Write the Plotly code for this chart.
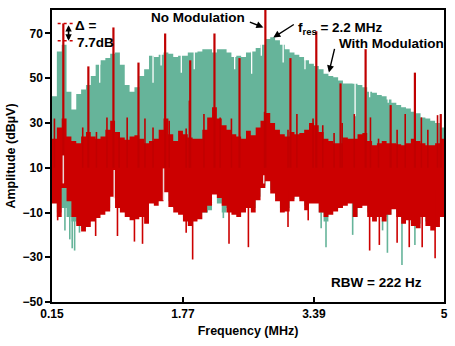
import plotly.graph_objects as go

# Frequency bins (MHz) of the measured spectrum, 0.06 MHz apart
freq = [0.18, 0.24, 0.30, 0.36, 0.42, 0.48, 0.54, 0.60, 0.66, 0.72,
        0.78, 0.84, 0.90, 0.96, 1.02, 1.08, 1.14, 1.20, 1.26, 1.32,
        1.38, 1.44, 1.50, 1.56, 1.62, 1.68, 1.74, 1.80, 1.86, 1.92,
        1.98, 2.04, 2.10, 2.16, 2.22, 2.28, 2.34, 2.40, 2.46, 2.52,
        2.58, 2.64, 2.70, 2.76, 2.82, 2.88, 2.94, 3.00, 3.06, 3.12,
        3.18, 3.24, 3.30, 3.36, 3.42, 3.48, 3.54, 3.60, 3.66, 3.72,
        3.78, 3.84, 3.90, 3.96, 4.02, 4.08, 4.14, 4.20, 4.26, 4.32,
        4.38, 4.44, 4.50, 4.56, 4.62, 4.68, 4.74, 4.80, 4.86, 4.92,
        4.98]
BIN = 0.06

# With modulation: max / min amplitude per bin (dBuV)
teal_hi = [42, 62, 65, 44, 36, 43, 45, 47, 51, 56,
           58, 59, 61, 61.5, 56, 47, 44, 46, 51, 54,
           60, 59.5, 60.5, 61.5, 61, 59.5, 60, 60, 61.5, 61.5,
           62, 63, 63, 61.5, 63, 63, 61.5, 59.5, 60, 59.5,
           61.5, 62, 63.5, 65, 67.5, 68.3, 67, 65, 63, 61.5,
           60.5, 59.5, 58, 56.5, 55.5, 54, 52, 51, 50.5, 49,
           47.7, 47.7, 47.5, 47, 46, 44, 43.5, 42.5, 42, 40.5,
           39, 38, 37, 36.5, 35, 34.3, 32.5, 32, 31, 30,
           28]
teal_lo = [-4, -10, -8, -12, -14, -15, -17, -14, -12, -10,
           -9, -8, -2, -6, -8, -10, -11, -11, -10, -12,
           -4, -5, -3, 0, -5, -8, -9, -12, -13, -12,
           -10, -10, -9, 0, -6, -10, -8, -9, -10, -8,
           -6, -8, -3, 2, 5, 0, -3, -8, -8, -4,
           -2, -4, -7, -5, -5, -10, -14, -9, -8, -6,
           -5, -5, -12, -7, -6, -10, -12, -10, -12, -11,
           -7, -10, -13, -12, -15, -15, -10, -14, -16, -14,
           -10]

# No modulation: max / min of the noise floor per bin (dBuV)
red_hi = [23, 28, 32, 24, 22, 21, 24, 26, 24, 23,
          24, 27, 31, 26, 23.5, 22.5, 24, 24.5, 23, 21,
          22, 23, 27, 32, 25, 22, 26.5, 25, 23.5, 23,
          23, 27, 32.5, 37, 32, 29, 27, 25, 24, 23,
          26.5, 24.5, 28, 31, 34.5, 30, 27, 25, 24, 26,
          25, 25.5, 27, 30, 29, 26, 23, 22, 21, 21,
          23.5, 23, 23, 25, 25.5, 22, 20, 21, 22, 21,
          21, 20.5, 20, 21, 23, 22, 21, 20, 20, 21,
          23]
red_lo = [-6, -12, 1, -5, -12, -16, -18.5, -16.5, -14, -12.5,
          -11, -9.5, -3, -8, -10, -12, -13.5, -13, -12, -15,
          -6, -7, -5, -1, -7.5, -10, -11, -14, -16, -14,
          -13, -10, -7, -2, -3.5, -7, -10, -11, -12, -10,
          -8, -10, -4.5, 1, 4, -1.5, -5, -10, -9.5, -5,
          -3, -5, -9, -6, -6, -10, -12, -11, -9.5, -8,
          -7, -6, -12, -8, -7, -12, -14, -12, -14, -11,
          -8.5, -12, -15, -13.5, -16, -17, -12, -16, -18, -16.5,
          -12]

# Switching harmonics without modulation (MHz, peak dBuV)
harm_f = [0.29, 0.60, 0.91, 1.22, 1.55, 1.86, 2.16, 2.47,
          2.79, 3.10, 3.42, 3.72, 4.03, 4.34, 4.64, 4.96]
harm_v = [74.5, 55.3, 72.7, 57, 70, 58, 70, 59,
          85, 59, 71, 47.7, 63, 38, 52.5, 34]

# Smaller spurs on the unmodulated floor
spur_f = [0.18, 0.53, 0.70, 0.83, 0.98, 1.08, 1.30, 1.40, 1.60, 1.81,
          1.85, 2.03, 2.23, 2.37, 2.78, 3.07, 3.18, 3.38, 3.50, 3.64,
          3.74, 3.89, 4.09, 4.19, 4.42, 4.52, 4.72, 4.80, 4.92]
spur_v = [32, 28, 26, 32.5, 26, 32.5, 32, 28, 31, 27.5,
          40, 34, 32.5, 32, 35, 27, 34, 32, 29, 25.5,
          30, 34, 32.5, 23, 27, 34, 32.5, 27, 33.5]

# Deep minima of each trace (MHz, dBuV)
red_dip_f = [0.22, 0.69, 0.96, 1.17, 1.27, 1.81, 1.89, 2.34, 2.58, 3.07,
             3.32, 4.08, 4.20, 4.42, 4.57, 4.73, 4.89]
red_dip_v = [-13.5, -20.5, -20.5, -23, -24, -19, -31, -24, -25.5, -16.5,
             -13.5, -27, -24.5, -23.5, -25.5, -25.5, -30.5]
teal_dip_f = [0.31, 0.37, 0.40, 0.43, 0.49, 2.07, 2.27, 3.48, 3.54, 3.87,
              4.24, 4.30, 4.48, 4.64]
teal_dip_v = [-18, -22, -26, -27, -19, -10, -12.5, -17, -25.5, -20,
              -18, -28, -33.5, -24.5]

# Narrow drop-outs at the top of the modulated spectrum
notch_f = [0.74, 1.27, 1.40, 1.50, 1.75, 1.91, 2.41, 2.62, 2.74, 3.01,
           3.28, 3.54, 3.90, 4.08, 4.31]
notch_v = [48, 58, 48, 55.7, 52.5, 54, 54, 52, 60, 57,
           54, 52.5, 33, 41.5, 39]

# Pale traces inside the unmodulated floor at the harmonics
pale_f = [0.29, 0.92, 1.53, 2.77]
pale_top = [15.5, 9, 9.7, 6.6]
pale_bot = [3, -3.6, -4.5, 3]

# Peak levels of the first harmonic without / with modulation (dBuV)
delta_levels = [74.5, 66.8]

TEAL = "#66b49a"
RED = "#cc0000"
SPIKE = "#c00000"
FONT = "Liberation Sans, Arial, sans-serif"

# left edges of the bins, closed by the right edge of the last bin
edges = [f - BIN / 2 for f in freq] + [freq[-1] + BIN / 2]


def stepped(vals):
    return vals + [vals[-1]]


def segments(xs, lo, hi):
    """Vertical line segments from lo to hi at each x."""
    lo_list = lo if isinstance(lo, list) else [lo] * len(xs)
    hi_list = hi if isinstance(hi, list) else [hi] * len(xs)
    sx, sy = [], []
    for x, a, b in zip(xs, lo_list, hi_list):
        sx += [x, x, None]
        sy += [a, b, None]
    return sx, sy


def band(fig, lo, hi, color):
    fig.add_trace(go.Scatter(x=edges, y=stepped(lo), mode="lines",
                             line=dict(width=0, shape="hv", color=color),
                             showlegend=False, hoverinfo="skip"))
    fig.add_trace(go.Scatter(x=edges, y=stepped(hi), mode="lines", fill="tonexty",
                             fillcolor=color, line=dict(width=0, shape="hv", color=color),
                             showlegend=False, hoverinfo="skip"))


def lines(fig, xs, lo, hi, color, width):
    x, y = segments(xs, lo, hi)
    fig.add_trace(go.Scatter(x=x, y=y, mode="lines", line=dict(color=color, width=width),
                             showlegend=False, hoverinfo="skip"))


fig = go.Figure()

# modulated spectrum
band(fig, teal_lo, teal_hi, TEAL)
lines(fig, teal_dip_f, teal_dip_v, 5, TEAL, 1.6)
lines(fig, notch_f, notch_v, 80.5, "white", 1.3)

# unmodulated spectrum
band(fig, red_lo, red_hi, RED)
lines(fig, red_dip_f, red_dip_v, 0, RED, 1.6)
lines(fig, spur_f, 10, spur_v, SPIKE, 1.6)
lines(fig, harm_f, 10, harm_v, SPIKE, 2.2)
lines(fig, pale_f, pale_bot, pale_top, "#ead2d2", 1.5)

# delta marker: dashed levels of the two peaks
for lvl in delta_levels:
    fig.add_trace(go.Scatter(x=[0.22, 0.44], y=[lvl, lvl], mode="lines",
                             line=dict(color=RED, width=1.5, dash="dot"),
                             showlegend=False, hoverinfo="skip"))

bold = dict(family=FONT, size=13.5, color="black", weight="bold")
arrow = dict(text="", showarrow=True, arrowhead=2, arrowsize=1,
             arrowwidth=1.4, arrowcolor="black")
annotations = [
    dict(x=1.96, y=77.2, text="No Modulation", showarrow=False, font=bold),
    dict(x=3.17, y=72.4, text="f<sub>res</sub> = 2.2 MHz", showarrow=False,
         xanchor="left", font=bold),
    dict(x=4.35, y=65.5, text="With Modulation", showarrow=False, font=bold),
    dict(x=0.41, y=73.6, text="\u0394 =", showarrow=False, xanchor="left", font=bold),
    dict(x=0.44, y=66.0, text="7.7dB", showarrow=False, xanchor="left", font=bold),
    dict(x=4.17, y=-41.2, text="RBW = 222 Hz", showarrow=False, font=bold),
    dict(x=2.765, y=72.7, ax=-15, ay=-6, **arrow),
    dict(x=2.888, y=68.2, ax=22, ay=-14, **arrow),
    dict(x=3.576, y=52.6, ax=6, ay=-25, **arrow),
    dict(x=0.355, y=delta_levels[1], ax=0, ay=-17, text="", showarrow=True,
         arrowhead=2, arrowside="end+start", arrowsize=0.8, arrowwidth=1.6,
         arrowcolor="black"),
]

axis_font = dict(family=FONT, size=12, color="black", weight="bold")
fig.update_layout(
    width=455, height=346,
    margin=dict(l=52, r=7, t=10, b=44),
    paper_bgcolor="white", plot_bgcolor="white",
    annotations=annotations,
    font=dict(family=FONT, color="black"),
    xaxis=dict(
        range=[0.15, 5.0],
        tickvals=[0.15, 1.77, 3.39, 5], ticktext=["0.15", "1.77", "3.39", "5"],
        ticks="inside", ticklen=5, tickwidth=1.5, tickcolor="black",
        showline=True, linecolor="black", linewidth=1.5, mirror=True,
        showgrid=False, zeroline=False,
        tickfont=axis_font,
        title=dict(text="Frequency (MHz)", standoff=6,
                   font=dict(family=FONT, size=12.5, color="black", weight="bold")),
    ),
    yaxis=dict(
        range=[-50, 80.5],
        tickvals=[-50, -30, -10, 10, 30, 50, 70],
        ticks="outside", ticklen=5, tickwidth=1.5, tickcolor="black",
        showline=True, linecolor="black", linewidth=1.5, mirror=True,
        showgrid=False, zeroline=False,
        tickfont=axis_font,
        title=dict(text="Amplitude (dB\u00b5V)", standoff=4,
                   font=dict(family=FONT, size=12.5, color="black", weight="bold")),
    ),
)

fig.write_html("out.html")
